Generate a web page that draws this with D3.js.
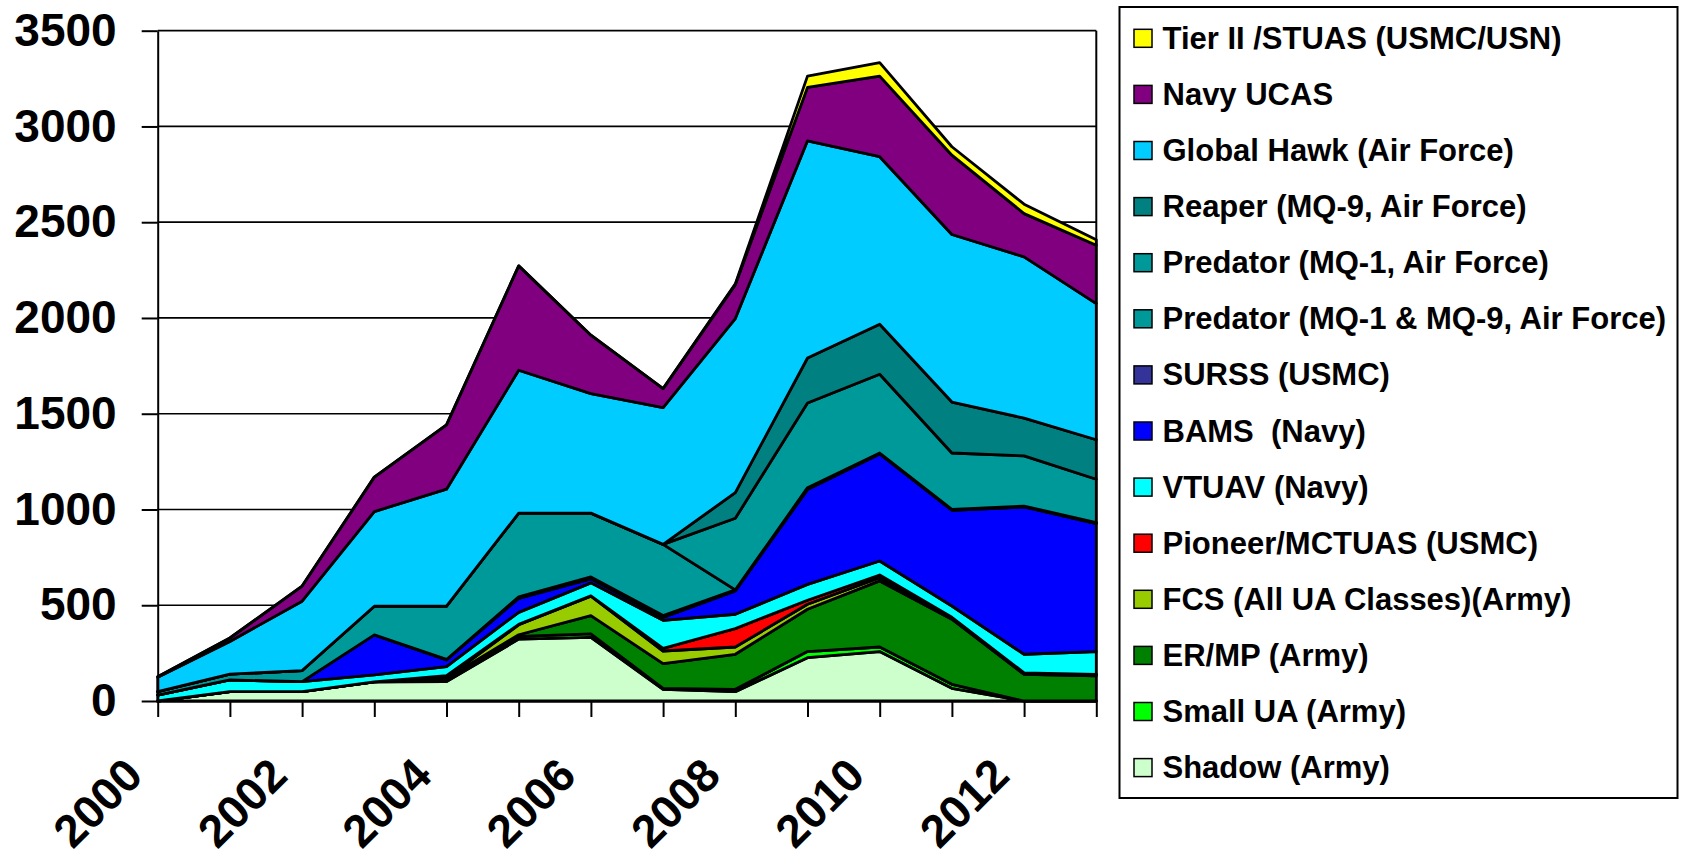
<!DOCTYPE html>
<html>
<head>
<meta charset="utf-8">
<script src="https://cdn.jsdelivr.net/npm/d3@7/dist/d3.min.js"></script>
<style>
  body { margin: 0; background: #fff; }
  text { font-family: "Liberation Sans", Arial, sans-serif; font-weight: bold; }
</style>
</head>
<body>
<div id="chart"></div>
<script>
// data (one value per year)
const years = [2000, 2001, 2002, 2003, 2004, 2005, 2006, 2007, 2008, 2009, 2010, 2011, 2012, 2013];
const shadow      = [0, 49, 49, 100, 101, 323, 332, 61, 49, 226, 258, 66, 0, 0];
const smallUA     = [0, 0, 0, 0, 3, 14, 18, 5, 12, 32, 24, 21, 0, 0];
const erMp        = [0, 0, 0, 0, 15, 9, 96, 129, 183, 221, 345, 340, 139, 131];
const fcs         = [0, 0, 0, 0, 2, 52, 101, 66, 38, 26, 17, 8, 8, 8];
const pioneer     = [0, 0, 0, 0, 12, 2, 2, 14, 96, 21, 14, 2, 0, 0];
const vtuav       = [31, 61, 52, 36, 47, 63, 68, 146, 75, 83, 73, 59, 97, 119];
const bams        = [0, 0, 0, 209, 35, 73, 21, 15, 122, 495, 559, 500, 769, 668];
const surss       = [0, 0, 0, 0, 2, 8, 10, 10, 5, 10, 5, 5, 5, 5];
const predatorAll = [18, 30, 58, 150, 278, 437, 333, 372, 0, 0, 0, 0, 0, 0];
const predatorMq1 = [0, 0, 0, 0, 0, 0, 0, 0, 374, 442, 411, 294, 262, 227];
const reaper      = [0, 0, 0, 0, 0, 0, 0, 0, 134, 235, 261, 266, 197, 206];
const globalHawk  = [75, 171, 362, 494, 611, 746, 624, 714, 909, 1134, 875, 875, 842, 711];
const navyUcas    = [3, 18, 79, 180, 336, 545, 305, 99, 177, 279, 421, 414, 226, 305];
const tierII      = [0, 0, 0, 0, 0, 0, 0, 0, 4, 59, 70, 44, 49, 29];

// bottom of the stack first
const seriesNames = ["Shadow (Army)", "Small UA (Army)", "ER/MP (Army)", "FCS (All UA Classes)(Army)",
      "Pioneer/MCTUAS (USMC)", "VTUAV (Navy)", "BAMS  (Navy)", "SURSS (USMC)",
      "Predator (MQ-1 & MQ-9, Air Force)", "Predator (MQ-1, Air Force)", "Reaper (MQ-9, Air Force)",
      "Global Hawk (Air Force)", "Navy UCAS", "Tier II /STUAS (USMC/USN)"];
const seriesValues = [shadow, smallUA, erMp, fcs, pioneer, vtuav, bams, surss,
      predatorAll, predatorMq1, reaper, globalHawk, navyUcas, tierII];
const seriesColors = ["#CCFFCC", "#00FF00", "#008000", "#99CC00", "#FF0000", "#00FFFF", "#0000FF", "#333399",
      "#009999", "#009999", "#008080", "#00CCFF", "#800080", "#FFFF00"];

const yTicks = [0, 500, 1000, 1500, 2000, 2500, 3000, 3500];
const xLabels = [2000, 2002, 2004, 2006, 2008, 2010, 2012];

//graphic
const w = 1682;
const h = 856;
const plotLeft = 157.7, plotRight = 1096.3, plotTop = 30.7, plotBottom = 701;

const x = d3.scaleLinear().domain([2000, 2013]).range([plotLeft, plotRight]);
const y = d3.scaleLinear().domain([0, 3500]).range([plotBottom, plotTop]);

const rows = years.map((yr, i) => {
      const r = { year: yr };
      seriesNames.forEach((n, k) => r[n] = seriesValues[k][i]);
      return r;
});
const stacked = d3.stack().keys(seriesNames)(rows);

const svg = d3.select("#chart")
      .append("svg")
      .attr("width", w)
      .attr("height", h)
      .style("background-color", "white");

// gridlines
svg.append("g")
      .selectAll("line")
      .data(yTicks.filter(d => d > 0))
      .enter()
      .append("line")
      .attr("x1", plotLeft)
      .attr("x2", plotRight)
      .attr("y1", d => y(d))
      .attr("y2", d => y(d))
      .style("stroke", "black")
      .style("stroke-width", 1.7);

const area = d3.area()
      .x(d => x(d.data.year))
      .y0(d => y(d[0]))
      .y1(d => y(d[1]));

svg.append("g")
      .selectAll("path")
      .data(stacked)
      .enter()
      .append("path")
      .attr("d", area)
      .style("fill", (d, i) => seriesColors[i])
      .style("stroke", "black")
      .style("stroke-width", 2.8)
      .style("stroke-linejoin", "round");

// right border
svg.append("line")
      .attr("x1", plotRight).attr("x2", plotRight)
      .attr("y1", plotTop).attr("y2", plotBottom)
      .style("stroke", "black")
      .style("stroke-width", 2);

// y axis
const yAxis = svg.append("g")
      .attr("transform", `translate(${plotLeft},0)`)
      .call(d3.axisLeft(y).tickValues(yTicks).tickSize(16).tickSizeOuter(0).tickPadding(25)
            .tickFormat(d3.format("d")));
yAxis.selectAll("text")
      .style("font-size", "46px")
      .style("fill", "black");
yAxis.selectAll("line, path").style("stroke", "black").style("stroke-width", 2);

// x axis
const xAxis = svg.append("g")
      .attr("transform", `translate(0,${plotBottom})`)
      .call(d3.axisBottom(x).tickValues(years).tickSize(16).tickSizeOuter(0)
            .tickFormat(d => xLabels.includes(d) ? String(d) : ""));
xAxis.selectAll("text")
      .attr("x", -13)
      .attr("y", 77)
      .attr("dy", 0)
      .attr("text-anchor", "end")
      .attr("transform", "rotate(-45,-13,77)")
      .style("font-size", "46px")
      .style("fill", "black");
xAxis.selectAll("line, path").style("stroke", "black").style("stroke-width", 2);

// legend
const legend = svg.append("g");
legend.append("rect")
      .attr("x", 1119.5)
      .attr("y", 7)
      .attr("width", 558)
      .attr("height", 791)
      .style("fill", "white")
      .style("stroke", "black")
      .style("stroke-width", 2);

const legendItems = legend.selectAll("g.item")
      .data(seriesNames.map((n, i) => ({ name: n, color: seriesColors[i] })).reverse())
      .enter()
      .append("g")
      .attr("class", "item")
      .attr("transform", (d, i) => `translate(1134,${38.3 + i * 56.1})`);

legendItems.append("rect")
      .attr("x", 0)
      .attr("y", -9)
      .attr("width", 18)
      .attr("height", 18)
      .style("fill", d => d.color)
      .style("stroke", "black")
      .style("stroke-width", 1.5);

legendItems.append("text")
      .text(d => d.name)
      .attr("x", 28.5)
      .attr("y", 0)
      .attr("dominant-baseline", "central")
      .style("white-space", "pre")
      .style("font-size", "31px")
      .style("fill", "black");
</script>
</body>
</html>
